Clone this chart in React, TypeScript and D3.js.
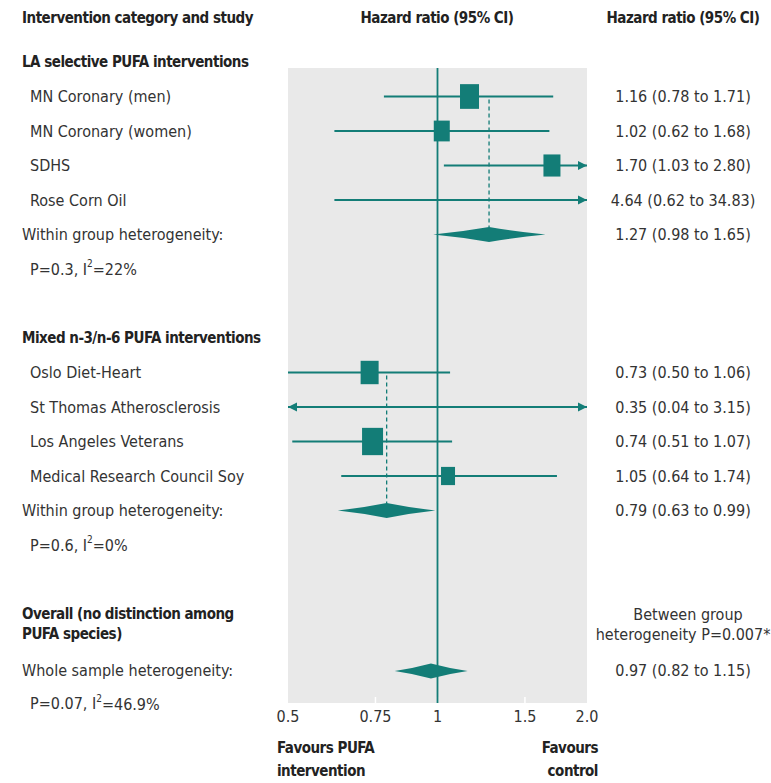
import React from "react";
import * as d3 from "d3";

// ---- data ----
const groupNames = ["LA selective PUFA interventions", "Mixed n-3/n-6 PUFA interventions"];
const studyNames = [
  "MN Coronary (men)", "MN Coronary (women)", "SDHS", "Rose Corn Oil",
  "Oslo Diet-Heart", "St Thomas Atherosclerosis", "Los Angeles Veterans", "Medical Research Council Soy",
];
const studyGroup = [0, 0, 0, 0, 1, 1, 1, 1];
const studyHR = [1.16, 1.02, 1.70, 4.64, 0.73, 0.35, 0.74, 1.05];
const studyLo = [0.78, 0.62, 1.03, 0.62, 0.50, 0.04, 0.51, 0.64];
const studyHi = [1.71, 1.68, 2.80, 34.83, 1.06, 3.15, 1.07, 1.74];
const studyWeight = [19, 16, 17, 15, 18, 12, 21, 14];
const groupHR = [1.27, 0.79];
const groupLo = [0.98, 0.63];
const groupHi = [1.65, 0.99];
const groupHet = ["P=0.3, I²=22%", "P=0.6, I²=0%"];
const overallHR = 0.97, overallLo = 0.82, overallHi = 1.15;
const tickValues = [0.5, 0.75, 1, 1.5, 2.0];
const tickLabels = ["0.5", "0.75", "1", "1.5", "2.0"];

const fmt = (v: number) => v.toFixed(2);
const ciText = (h: number, l: number, u: number) => `${fmt(h)} (${fmt(l)} to ${fmt(u)})`;

export default function App() {
  const W = 771, H = 783;
  const x = d3.scaleLog().domain([0.5, 2]).range([288, 587]);
  const slot = d3.scaleLinear().domain([0, 1]).range([62, 96.5]);
  const teal = "#137d77";
  const txt = "#333";
  const font = "'DejaVu Sans Condensed', 'Liberation Sans Narrow', 'Open Sans', sans-serif";
  const fs = 16;
  const fb = 15;
  const ls = -0.5;
  const panelTop = 68, panelBot = 703;

  const sup = (s: string) => {
    const parts = s.split("²");
    return (
      <>
        {parts[0]}<tspan dy={-6} fontSize={10}>2</tspan><tspan dy={6}>{parts[1]}</tspan>
      </>
    );
  };

  const studySlot = [1, 2, 3, 4, 9, 10, 11, 12];
  const groupHeaderSlot = [0, 8];
  const groupDiamondSlot = [5, 13];
  const groupHetSlot = [6, 14];

  const arrow = (xTip: number, y: number, dir: number, key: string) => (
    <path key={key} d={`M${xTip},${y} L${xTip - dir * 9},${y - 4.5} L${xTip - dir * 9},${y + 4.5} Z`} fill={teal} />
  );

  const diamond = (hr: number, lo: number, hi: number, y: number, hh: number) =>
    `M${x(lo)},${y} Q${(x(lo) + x(hr)) / 2},${y - hh * 0.35} ${x(hr)},${y - hh} Q${(x(hi) + x(hr)) / 2},${y - hh * 0.35} ${x(hi)},${y} Q${(x(hi) + x(hr)) / 2},${y + hh * 0.35} ${x(hr)},${y + hh} Q${(x(lo) + x(hr)) / 2},${y + hh * 0.35} ${x(lo)},${y} Z`;

  const [xmin, xmax] = x.range();

  const B = (props: any) => (
    <text fontSize={fb} fontWeight="bold" fill="#222" dominantBaseline="central" letterSpacing={ls} {...props} />
  );

  return (
    <svg width={W} height={H} style={{ display: "block", position: "absolute", left: 0, top: 0 }} fontFamily={font}>
      <rect width={W} height={H} fill="#fff" />
      {/* headers */}
      <B x={22} y={18}>Intervention category and study</B>
      <B x={437} y={18} textAnchor="middle">Hazard ratio (95% CI)</B>
      <B x={683} y={18} textAnchor="middle">Hazard ratio (95% CI)</B>

      {/* panel */}
      <rect x={xmin} y={panelTop} width={xmax - xmin} height={panelBot - panelTop} fill="#e9e9e9" />
      {tickValues.slice(1, -1).map((t, i) => (
        <line key={"tk" + i} x1={x(t)} x2={x(t)} y1={panelBot - 6} y2={panelBot} stroke="#fff" strokeWidth={1.5} />
      ))}
      <line x1={x(1)} x2={x(1)} y1={panelTop} y2={panelBot} stroke={teal} strokeWidth={1.8} />

      {/* group headers & heterogeneity */}
      {groupNames.map((g, gi) => (
        <g key={"g" + gi}>
          <B x={22} y={slot(groupHeaderSlot[gi])}>{g}</B>
          <text x={22} y={slot(groupDiamondSlot[gi])} fontSize={fs} fill={txt} dominantBaseline="central">Within group heterogeneity:</text>
          <text x={30} y={slot(groupHetSlot[gi])} fontSize={fs} fill={txt} dominantBaseline="central">{sup(groupHet[gi])}</text>
          <path d={diamond(groupHR[gi], groupLo[gi], groupHi[gi], slot(groupDiamondSlot[gi]), 7.5)} fill={teal} />
          <text x={683} y={slot(groupDiamondSlot[gi])} fontSize={fs} fill={txt} dominantBaseline="central" textAnchor="middle">{ciText(groupHR[gi], groupLo[gi], groupHi[gi])}</text>
          {(() => {
            const first = studyGroup.indexOf(gi);
            return (
              <line x1={x(groupHR[gi])} x2={x(groupHR[gi])} y1={slot(studySlot[first]) + 3} y2={slot(groupDiamondSlot[gi]) - 7}
                stroke={teal} strokeWidth={1.3} strokeDasharray="4,3" />
            );
          })()}
        </g>
      ))}

      {/* studies */}
      {studyNames.map((s, i) => {
        const y = slot(studySlot[i]);
        const lo = studyLo[i], hi = studyHi[i], hr = studyHR[i];
        const x1 = Math.max(xmin, x(lo));
        const x2 = Math.min(xmax, x(hi));
        const w = studyWeight[i];
        const h = w * 1.3;
        const showBox = hr >= 0.5 && hr <= 2;
        return (
          <g key={"s" + i}>
            <text x={30} y={y} fontSize={fs} fill={txt} dominantBaseline="central">{s}</text>
            <line x1={x1} x2={x2} y1={y} y2={y} stroke={teal} strokeWidth={2} />
            {x(lo) < xmin - 1 && arrow(xmin, y, -1, "al")}
            {hi > 2 && arrow(xmax, y, 1, "ar")}
            {showBox && <rect x={x(hr) - w / 2} y={y - h / 2} width={w} height={h} fill={teal} />}
            <text x={683} y={y} fontSize={fs} fill={txt} dominantBaseline="central" textAnchor="middle">{ciText(hr, lo, hi)}</text>
          </g>
        );
      })}

      {/* overall */}
      <B x={22} y={slot(16)}>Overall (no distinction among</B>
      <B x={22} y={slot(16) + 20}>PUFA species)</B>
      <text x={22} y={slot(17.65)} fontSize={fs} fill={txt} dominantBaseline="central">Whole sample heterogeneity:</text>
      <text x={30} y={slot(18.6)} fontSize={fs} fill={txt} dominantBaseline="central">{sup("P=0.07, I²=46.9%")}</text>
      <path d={diamond(overallHR, overallLo, overallHi, slot(17.65), 7.5)} fill={teal} />
      <text x={688} y={slot(16)} fontSize={fs} fill={txt} dominantBaseline="central" textAnchor="middle">Between group</text>
      <text x={683} y={slot(16) + 20} fontSize={fs} fill={txt} dominantBaseline="central" textAnchor="middle">heterogeneity P=0.007*</text>
      <text x={683} y={slot(17.65)} fontSize={fs} fill={txt} dominantBaseline="central" textAnchor="middle">{ciText(overallHR, overallLo, overallHi)}</text>

      {/* axis labels */}
      {tickValues.map((t, i) => (
        <text key={"tl" + i} x={x(t)} y={716} fontSize={fs} fill={txt} dominantBaseline="central" textAnchor="middle">{tickLabels[i]}</text>
      ))}
      <B x={277} y={748}>Favours PUFA</B>
      <B x={277} y={771}>intervention</B>
      <B x={598} y={748} textAnchor="end">Favours</B>
      <B x={598} y={771} textAnchor="end">control</B>
    </svg>
  );
}
